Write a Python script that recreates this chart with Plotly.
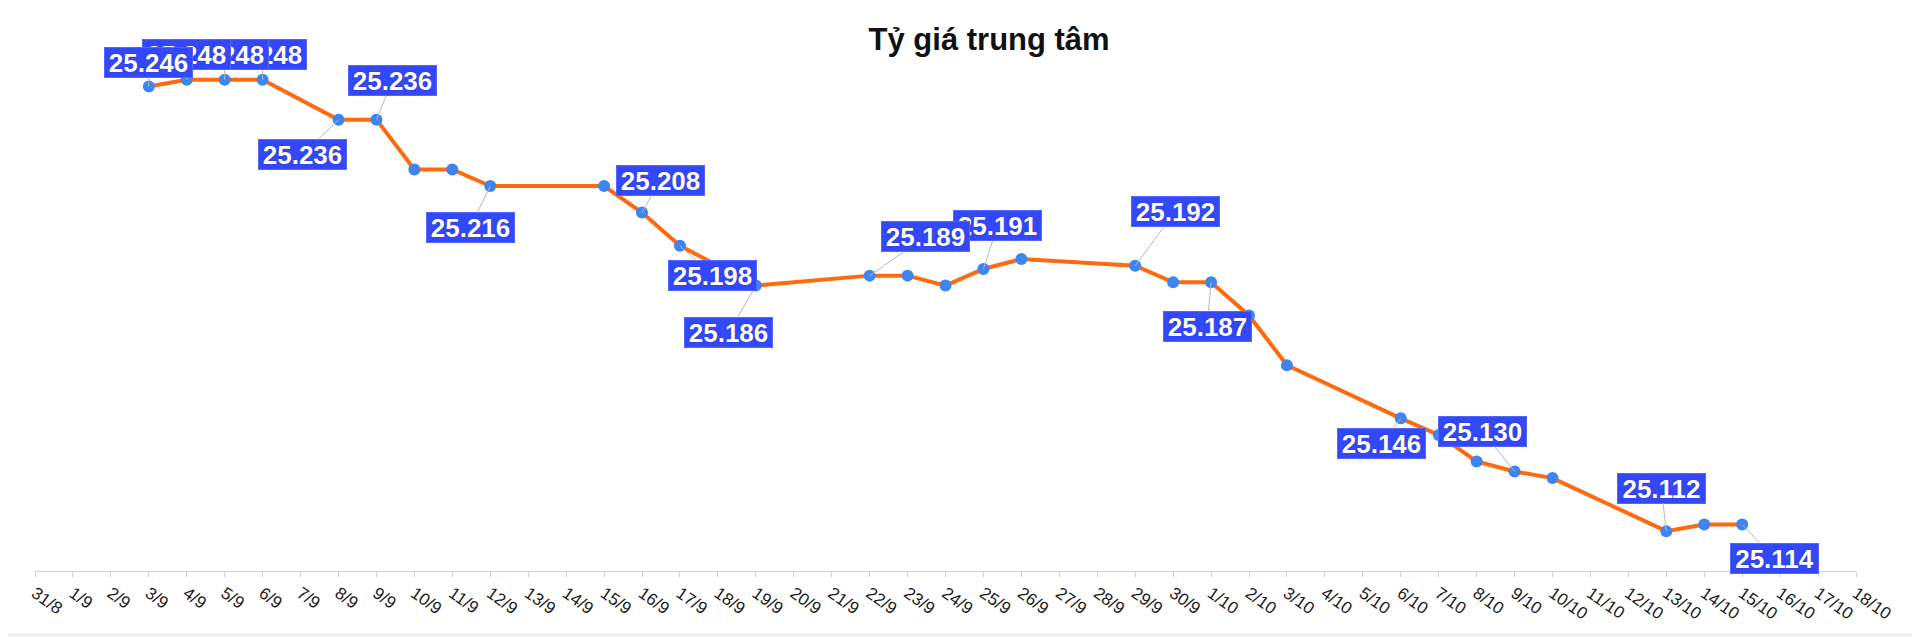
import plotly.graph_objects as go

# All category labels on the x axis (daily)
categories = (["31/8"] + [f"{d}/9" for d in range(1, 31)] + [f"{d}/10" for d in range(1, 19)])

# Observed dates and central rate values (VND/USD)
dates = ["3/9", "4/9", "5/9", "6/9", "8/9", "9/9", "10/9", "11/9", "12/9", "15/9",
         "16/9", "17/9", "19/9", "22/9", "23/9", "24/9", "25/9", "26/9", "29/9", "30/9",
         "1/10", "2/10", "3/10", "6/10", "7/10", "8/10", "9/10", "10/10", "13/10", "14/10",
         "15/10"]
values = [25246, 25248, 25248, 25248, 25236, 25236, 25221, 25221, 25216, 25216,
          25208, 25198, 25186, 25189, 25189, 25186, 25191, 25194, 25192, 25187,
          25187, 25177, 25162, 25146, 25141, 25133, 25130, 25128, 25112, 25114,
          25114]

# Dates that carry a value label
label_dates = ["3/9", "4/9", "5/9", "6/9", "8/9", "9/9", "12/9", "16/9", "17/9", "19/9",
               "22/9", "25/9", "29/9", "1/10", "6/10", "9/10", "13/10", "15/10"]
# label box offsets (pixels) relative to the point
label_offsets = [(0, -24), (0, -25), (0, -25), (0, -25), (-36, 35), (16, -39), (-20, 41),
                 (18, -32), (33, 30), (-27, 47), (56, -39), (14, -43), (40, -54), (-4, 44),
                 (-19, 25), (-32, -40), (-5, -43), (32, 34)]

title_text = "Tỷ giá trung tâm"


def fmt(v):
    return f"{v:,}".replace(",", ".")


fig = go.Figure()
fig.add_trace(go.Scatter(
    x=dates, y=values, mode="lines+markers",
    line=dict(color="#ff6a0e", width=4),
    marker=dict(color="#3d85f0", size=12, line=dict(width=0)),
    hoverinfo="skip", showlegend=False,
))

value_of = dict(zip(dates, values))
annotations = []
for d, (ax, ay) in reversed(list(zip(label_dates, label_offsets))):
    annotations.append(dict(
        x=d, y=value_of[d], xref="x", yref="y",
        text=fmt(value_of[d]), showarrow=True, arrowhead=0, arrowwidth=1,
        arrowcolor="#b8b8b8", ax=ax, ay=ay, axref="pixel", ayref="pixel",
        bgcolor="#3448fb", bordercolor="#5566ff", borderwidth=1, borderpad=0,
        width=87, height=29,
        font=dict(family="Liberation Sans, Arial", size=26, color="white",
                  weight="bold", shadow="0px 0px 1px #101a8a"),
        standoff=0, startstandoff=0,
    ))

L, T, B, R = 27, 32, 74, 72
PW, PH = 1920 - L - R, 637 - T - B

fig.update_layout(
    width=1920, height=637,
    paper_bgcolor="white", plot_bgcolor="white",
    margin=dict(l=L, r=R, t=T, b=B, autoexpand=False),
    title=dict(text=f"<b>{title_text}</b>", x=0.511, xref="container", xanchor="center",
               y=0.9505, yref="container", yanchor="middle",
               font=dict(family="Liberation Sans, Arial", size=31, color="#111111")),
    xaxis=dict(type="category", categoryorder="array", categoryarray=categories,
               tickmode="array", tickvals=categories, ticktext=categories,
               range=[0, len(categories) - 1], showgrid=False, zeroline=False,
               automargin=False,
               showline=True, linecolor="#d0d0d0", linewidth=1,
               ticks="outside", ticklen=5, tickcolor="#d0d0d0",
               tickangle=35, tickfont=dict(family="Liberation Sans, Arial", size=17, color="#1a1a1a")),
    yaxis=dict(range=[25100, 25260], visible=False, showgrid=False, zeroline=False,
               automargin=False),
    annotations=annotations,
    shapes=[dict(type="rect", xref="paper", yref="paper",
                 x0=(-10 - L) / PW, x1=(1910 - L) / PW,
                 y0=(T + PH - 627) / PH, y1=(T + PH + 10) / PH,
                 line=dict(color="#eeeeee", width=3), fillcolor="rgba(0,0,0,0)", layer="below")],
)

fig.write_html("out.html")
